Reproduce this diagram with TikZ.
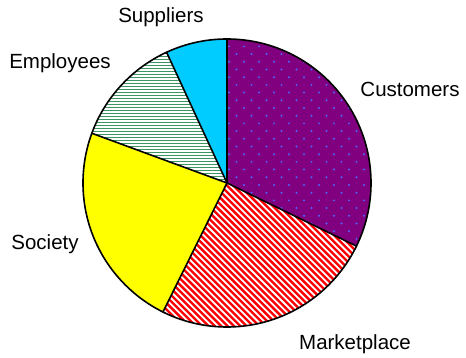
\documentclass[tikz,border=0pt]{standalone}
\usepackage{fontspec}
\setmainfont{Liberation Sans}
\definecolor{cpurple}{RGB}{128,0,128}
\definecolor{cdot}{RGB}{80,100,255}
\definecolor{cred}{RGB}{255,0,0}
\definecolor{cyel}{RGB}{255,255,0}
\definecolor{cgreen}{RGB}{60,150,100}
\definecolor{ccyan}{RGB}{0,204,255}
\tikzset{
  lbl/.style={font=\fontsize{20.5}{24}\selectfont, inner sep=0pt},
  edge/.style={line width=1.6pt, line join=round, line cap=round},
  hatch/.style={white, line width=#1},
}
\newcommand{\slicepath}[2]{(c) -- ++(#1:144) arc[start angle=#1, end angle=#2, radius=144] -- cycle}
\begin{document}
\begin{tikzpicture}[x=1pt,y=1pt]
\useasboundingbox (0,0) rectangle (466,358);
\coordinate (c) at (227,175);
% Customers
\fill[cpurple] \slicepath{90}{-26};
\begin{scope}
\clip \slicepath{90}{-26};
\foreach \r in {0,...,30}{
  \pgfmathsetmacro{\yy}{96+\r*7.7}
  \pgfmathsetmacro{\off}{mod(\r,2)*7.5}
  \foreach \k in {0,...,10}{
    \fill[cdot] ({229+\off+\k*15},\yy) circle[radius=1.1];
  }
}
\end{scope}
% Marketplace
\fill[cred] \slicepath{-26}{-116.4};
\begin{scope}
\clip \slicepath{-26}{-116.4};
\foreach \k in {0,...,60}{
  \pgfmathsetmacro{\s}{180+\k*6.36}
  \draw[hatch=1.8pt] (\s-200,200) -- (\s+40,-40);
}
\end{scope}
% Society
\fill[cyel] \slicepath{-116.4}{-200.2};
% Employees
\fill[cgreen] \slicepath{159.8}{114.8};
\begin{scope}
\clip \slicepath{159.8}{114.8};
\foreach \k in {0,...,50}{
  \draw[hatch=1.1pt] (70,{174+\k*3}) -- (240,{174+\k*3});
}
\end{scope}
% Suppliers
\fill[ccyan] \slicepath{114.8}{90};
% edges
\draw[edge] (c) -- ++(90:144);
\draw[edge] (c) -- ++(-26:144);
\draw[edge] (c) -- ++(-116.4:144);
\draw[edge] (c) -- ++(159.8:144);
\draw[edge] (c) -- ++(114.8:144);
\draw[edge] (c) circle[radius=144];
% labels
\node[lbl] (sup) at (161,341) {Suppliers};
\node[lbl] (emp) at (60,295) {Employees};
\node[lbl] (cus) at (410,269) {Customers};
\node[lbl] (soc) at (45,114) {Society};
\node[lbl] (mkt) at (355,14) {Marketplace};
\end{tikzpicture}
\end{document}
